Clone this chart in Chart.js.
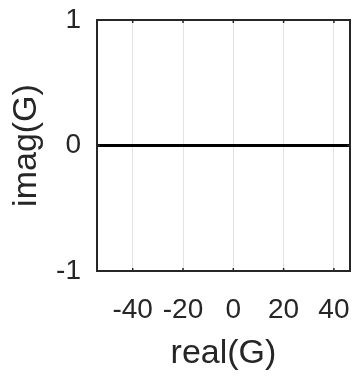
<!DOCTYPE html>
<html>
<head>
<meta charset="utf-8">
<script src="https://cdn.jsdelivr.net/npm/chart.js@4"></script>
<style>
  html, body { margin: 0; padding: 0; background: #fff; }
  #wrap { width: 355px; height: 378px; }
</style>
</head>
<body>
<div id="wrap"><canvas id="myChart" width="355" height="378"></canvas></div>
<script>
// data
const realG = [-54.2, 46.4];
const imagG = [0, 0];
const xTicks = [-40, -20, 0, 20, 40];
const yTicks = [-1, 0, 1];
const xRange = [-54.2, 46.4];
const yRange = [-1, 1];

const textColor = '#262626';

// box round the plot and small inward ticks, matlab style
const boxPlugin = {
    id: 'box',
    afterDraw(chart) {
        const c = chart.ctx, a = chart.chartArea;
        const xs = chart.scales.x, ys = chart.scales.y;
        c.save();
        c.strokeStyle = '#262626';
        c.lineWidth = 1.5;
        c.beginPath();
        xTicks.forEach(v => {
            const px = xs.getPixelForValue(v);
            c.moveTo(px, a.bottom); c.lineTo(px, a.bottom - 3);
            c.moveTo(px, a.top); c.lineTo(px, a.top + 3);
        });
        yTicks.forEach(v => {
            const py = ys.getPixelForValue(v);
            c.moveTo(a.left, py); c.lineTo(a.left + 3, py);
            c.moveTo(a.right, py); c.lineTo(a.right - 3, py);
        });
        c.stroke();
        c.lineWidth = 2;
        c.strokeRect(a.left, a.top, a.right - a.left, a.bottom - a.top);
        c.restore();
    }
};

const noPad = s => { s.paddingTop = 0; s.paddingBottom = 0; s.paddingLeft = 0; s.paddingRight = 0; };

const ctx = document.getElementById('myChart').getContext('2d');

const config = {
    type: 'scatter',
    data: {
        datasets: [{
            data: realG.map((x, i) => ({ x: x, y: imagG[i] })),
            showLine: true,
            borderColor: '#000',
            borderWidth: 3,
            pointRadius: 0
        }]
    },
    options: {
        responsive: false,
        animation: false,
        layout: { padding: { top: 20, right: 5, left: 0, bottom: 0 } },
        plugins: {
            legend: { display: false },
            tooltip: { enabled: false }
        },
        scales: {
            x: {
                type: 'linear',
                min: xRange[0],
                max: xRange[1],
                afterBuildTicks: s => { s.ticks = xTicks.map(v => ({ value: v })); },
                afterFit: s => { s.height = 107; noPad(s); },
                grid: { color: '#e3e3e3', lineWidth: 1, drawTicks: false },
                border: { display: false },
                ticks: {
                    color: textColor,
                    padding: 22,
                    maxRotation: 0,
                    autoSkip: false,
                    font: { family: 'Liberation Sans', size: 28 }
                },
                title: {
                    display: true,
                    text: 'real(G)',
                    color: textColor,
                    padding: { top: 8 },
                    font: { family: 'Liberation Sans', size: 34 }
                }
            },
            y: {
                type: 'linear',
                min: yRange[0],
                max: yRange[1],
                afterBuildTicks: s => { s.ticks = yTicks.map(v => ({ value: v })); },
                afterFit: s => { s.width = 97; noPad(s); },
                grid: { display: false, drawTicks: false },
                border: { display: false },
                ticks: {
                    color: textColor,
                    padding: 16,
                    font: { family: 'Liberation Sans', size: 28 }
                },
                title: {
                    display: true,
                    text: 'imag(G)',
                    color: textColor,
                    padding: { top: 6, bottom: 0 },
                    font: { family: 'Liberation Sans', size: 34 }
                }
            }
        }
    },
    plugins: [boxPlugin]
};

const myChart = new Chart(ctx, config);
</script>
</body>
</html>
